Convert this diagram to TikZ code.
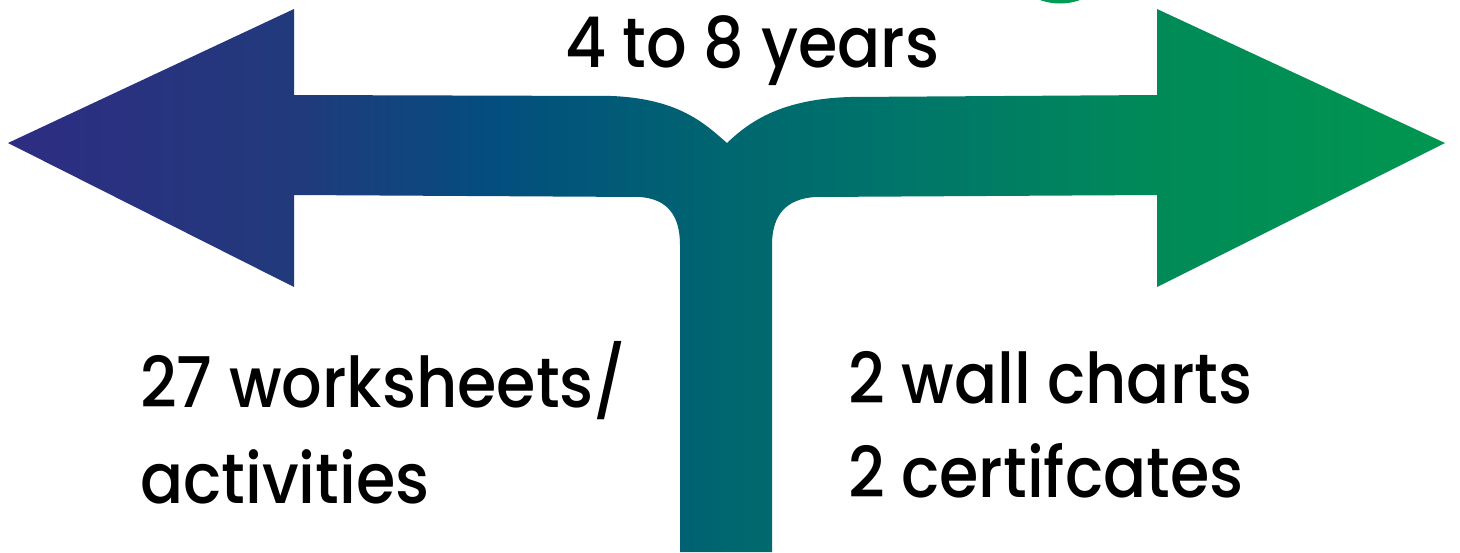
\documentclass[tikz,border=0pt]{standalone}
\usepackage{fontspec}
\setmainfont{Poppins}[UprightFont=* Medium, FakeStretch=0.91]
\usetikzlibrary{positioning}

\definecolor{fadeA}{HTML}{2E2C82}
\definecolor{fadeB}{HTML}{213A7C}
\definecolor{fadeC}{HTML}{034E7E}
\definecolor{fadeD}{HTML}{00666F}
\definecolor{fadeE}{HTML}{00756A}
\definecolor{fadeF}{HTML}{008A58}
\definecolor{fadeG}{HTML}{00964F}
\definecolor{dotgreen}{RGB}{0,155,85}

% left to right colour run of the fork (path box = 25bp..75bp)
\pgfdeclarehorizontalshading{forkfade}{100bp}{%
  color(0bp)=(fadeA); color(25bp)=(fadeA); color(35bp)=(fadeB);
  color(42bp)=(fadeC); color(50bp)=(fadeD); color(56bp)=(fadeE);
  color(65bp)=(fadeF); color(75bp)=(fadeG); color(100bp)=(fadeG)}

\begin{document}
\begin{tikzpicture}[
    x=1pt, y=-1pt,
    txt/.style={inner sep=0pt, anchor=base west, font=\fontsize{70}{84}\selectfont},
    forkshape/.style={shading=forkfade},
]
\useasboundingbox (0,0) rectangle (1460,552);

% green piece at the top edge
\fill[dotgreen] (1060,-30) ellipse [x radius=45, y radius=33.5];

% the forked double arrow
\shade[forkshape] (8,143) -- (294,9) -- (294,95) -- (612,96)
    .. controls (680,99) and (705,124) .. (727,143)
    .. controls (750,121) and (782,99) .. (850,97)
    -- (1157,95) -- (1157,9) -- (1445,143) -- (1157,287) -- (1157,195)
    -- (815,197) .. controls (786,199) and (772,215) .. (772,245)
    -- (772,552) -- (680,552) -- (680,245)
    .. controls (680,215) and (667,199) .. (640,197)
    -- (294,195) -- (294,287) -- cycle;

% labels
\node[txt] (age) at (565,67) {4 to 8 years};

\node[txt] (sheets) at (140,407) {27 worksheets/};
\node[txt, below=96pt of sheets.base west, anchor=base west] (acts) {activities};

\node[txt] (charts) at (848,403) {2 wall charts};
\node[txt, below=94pt of charts.base west, anchor=base west] (certs) {2 certifcates};
\end{tikzpicture}
\end{document}
